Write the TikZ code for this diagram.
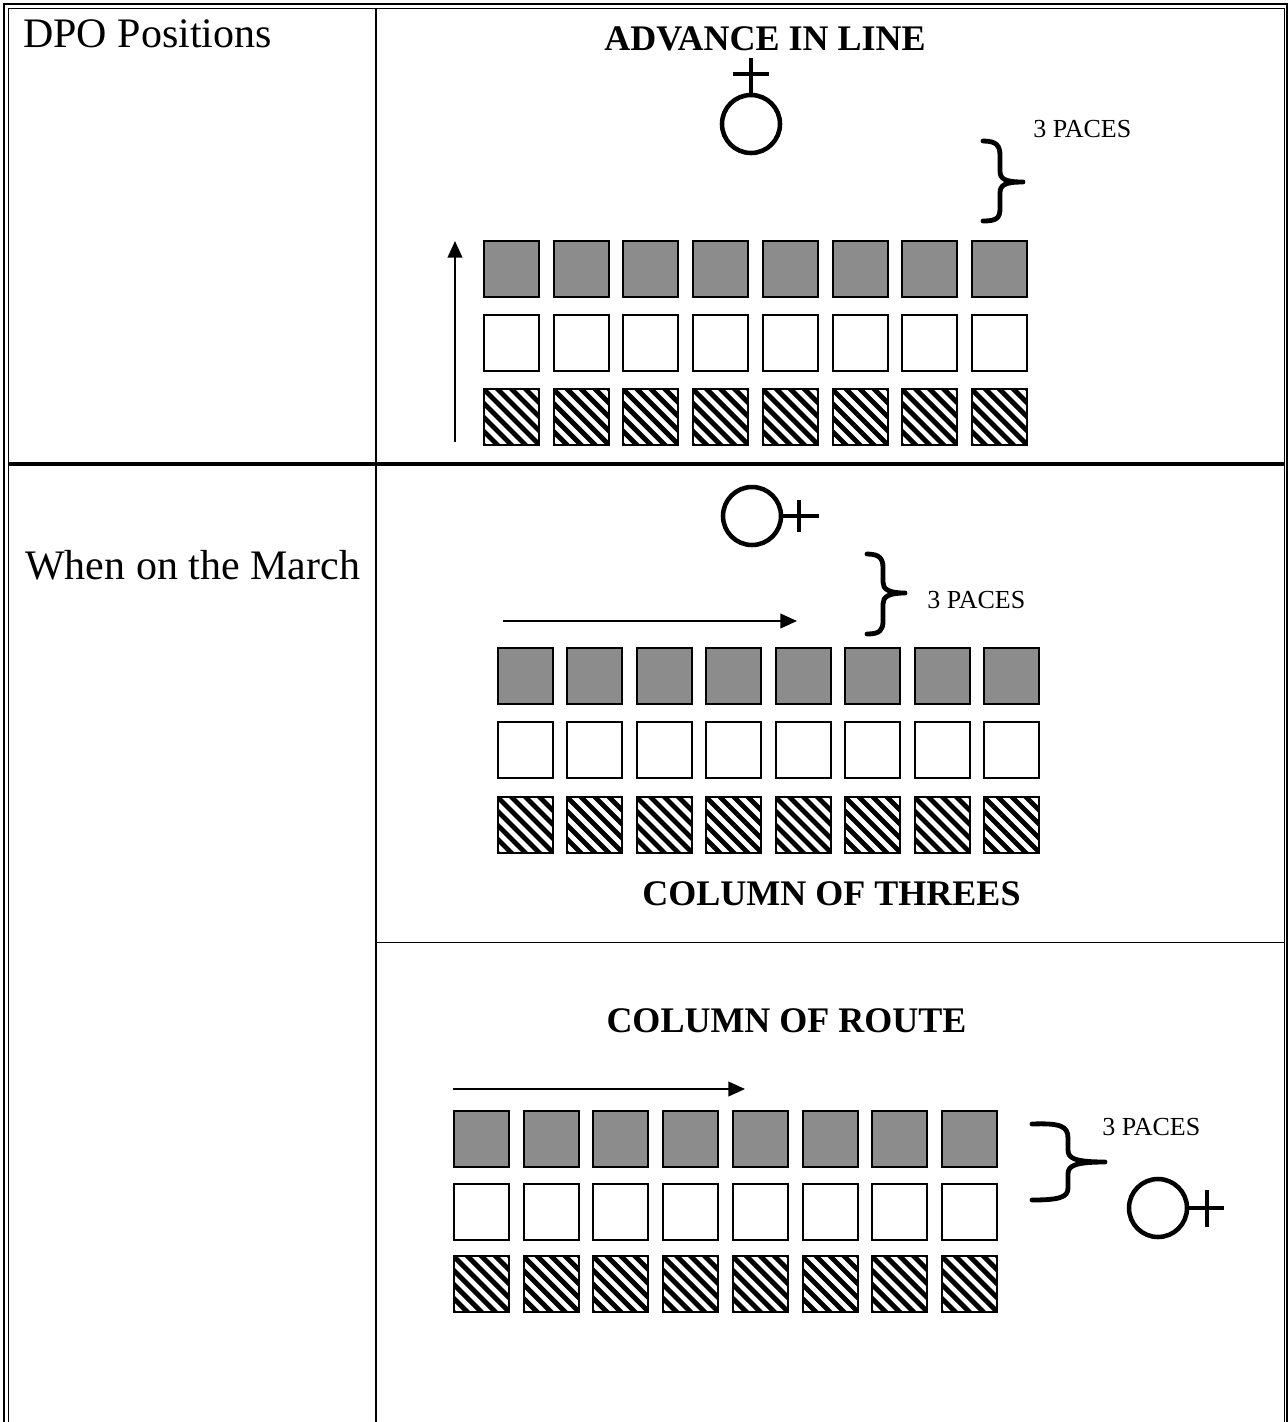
\documentclass[tikz,border=0pt]{standalone}
\usepackage{fontspec}
\setmainfont{Liberation Serif}
\usetikzlibrary{arrows.meta}
\tikzset{
  sq/.style={draw, line width=1.5pt, minimum width=41.25pt, minimum height=42pt, inner sep=0pt, outer sep=0pt},
  shadedsq/.style={sq, fill=black!45},
  plainsq/.style={sq, fill=white},
  hatchedsq/.style={sq, fill=white, path picture={
      \foreach \k in {-8,...,8}{
        \draw[line width=3.7pt] ([shift={(\k*10.5pt-35pt,35pt)}]path picture bounding box.center) -- ++(70pt,-70pt);
      }}},
  heading/.style={font=\fontsize{27}{30}\selectfont\bfseries, inner sep=0pt, anchor=base},
  rowlabel/.style={font=\fontsize{31.5}{36}\selectfont, inner sep=0pt, anchor=base west},
  paces/.style={font=\fontsize{19.5}{22}\selectfont, inner sep=0pt, anchor=base west},
  mover/.style={line width=1.5pt, -{Triangle[width=11pt,length=12.5pt]}},
  officer/.style={circle, draw, line width=3.4pt, minimum size=43.5pt, inner sep=0pt},
  crossline/.style={line width=3.4pt},
  bracket/.style={line width=3.6pt, line cap=round, line join=round},
}
\begin{document}
\begin{tikzpicture}[x=0.75pt, y=-0.75pt]
\useasboundingbox (0,0) rectangle (1288,1422);
\fill[white] (0,0) rectangle (1288,1422);

% table frame
\draw[line width=1.8pt] (4,1422) -- (4,4) -- (1287,4) -- (1287,1422);
\draw[line width=0.9pt] (8.5,1422) -- (8.5,8.5) -- (1284.5,8.5) -- (1284.5,1422);
\draw[line width=1.5pt] (376,8.5) -- (376,1422);
\draw[line width=3pt] (8.5,463.7) -- (1284.5,463.7);
\draw[line width=1.1pt] (376,942.5) -- (1284.5,942.5);

% row labels
\node[rowlabel] (lab1) at (23,47) {DPO Positions};
\node[rowlabel] (lab2) at (25,579) {When on the March};

% ===== ADVANCE IN LINE =====
\node[heading] (h1) at (765,50) {ADVANCE IN LINE};
\node[officer] (o1) at (751,124) {};
\coordinate (o1top) at (751,58);
\coordinate (o1l) at (733,74);
\coordinate (o1r) at (769,74);
\draw[crossline] (o1.north) -- (o1top);
\draw[crossline] (o1l) -- (o1r);
\draw[bracket] (983,141) .. controls (997,141) and (1000,146) .. (1000,156) -- (1000,171)
  .. controls (1000,179) and (1005,182) .. (1023,182)
  .. controls (1005,182) and (1000,185) .. (1000,193) -- (1000,208)
  .. controls (1000,218) and (997,221) .. (983,221);
\node[paces] (p1) at (1033,137) {3 PACES};
\coordinate (a1s) at (455,442);
\coordinate (a1e) at (455,241);
\draw[mover] (a1s) -- (a1e);
\foreach \r/\st/\yy in {1/shadedsq/268.5, 2/plainsq/342.5, 3/hatchedsq/417}{
  \foreach \c in {1,...,8}{
    \node[\st] (a-\r-\c) at ({511.5+69.7*(\c-1)}, \yy) {};
  }
}

% ===== COLUMN OF THREES =====
\node[officer] (o2) at (752,516) {};
\coordinate (o2r) at (819,516);
\coordinate (o2t) at (799,500);
\coordinate (o2b) at (799,532);
\draw[crossline] (o2.east) -- (o2r);
\draw[crossline] (o2t) -- (o2b);
\draw[bracket] (867,554) .. controls (880,554) and (883,559) .. (883,568) -- (883,582)
  .. controls (883,589) and (888,593) .. (905,593)
  .. controls (888,593) and (883,597) .. (883,604) -- (883,621)
  .. controls (883,630) and (880,634) .. (867,634);
\node[paces] (p2) at (927,608) {3 PACES};
\coordinate (a2s) at (503,621);
\coordinate (a2e) at (797,621);
\draw[mover] (a2s) -- (a2e);
\foreach \r/\st/\yy in {1/shadedsq/675.5, 2/plainsq/750, 3/hatchedsq/824.5}{
  \foreach \c in {1,...,8}{
    \node[\st] (b-\r-\c) at ({525+69.5*(\c-1)}, \yy) {};
  }
}
\node[heading] (h2) at (831.5,905) {COLUMN OF THREES};

% ===== COLUMN OF ROUTE =====
\node[heading] (h3) at (786.5,1032) {COLUMN OF ROUTE};
\coordinate (a3s) at (453,1089);
\coordinate (a3e) at (745,1089);
\draw[mover] (a3s) -- (a3e);
\foreach \r/\st/\yy in {1/shadedsq/1139, 2/plainsq/1211.5, 3/hatchedsq/1284}{
  \foreach \c in {1,...,8}{
    \node[\st] (c-\r-\c) at ({481.5+69.7*(\c-1)}, \yy) {};
  }
}
\draw[bracket] (1032,1124) .. controls (1060,1123) and (1068,1126) .. (1068,1138) -- (1068,1150)
  .. controls (1068,1158) and (1074,1162) .. (1105,1162)
  .. controls (1074,1162) and (1068,1166) .. (1068,1174) -- (1068,1188)
  .. controls (1068,1197) and (1060,1200) .. (1032,1200);
\node[paces] (p3) at (1102,1135) {3 PACES};
\node[officer] (o3) at (1158,1208) {};
\coordinate (o3r) at (1224,1208);
\coordinate (o3t) at (1207,1190);
\coordinate (o3b) at (1207,1227);
\draw[crossline] (o3.east) -- (o3r);
\draw[crossline] (o3t) -- (o3b);
\end{tikzpicture}
\end{document}
